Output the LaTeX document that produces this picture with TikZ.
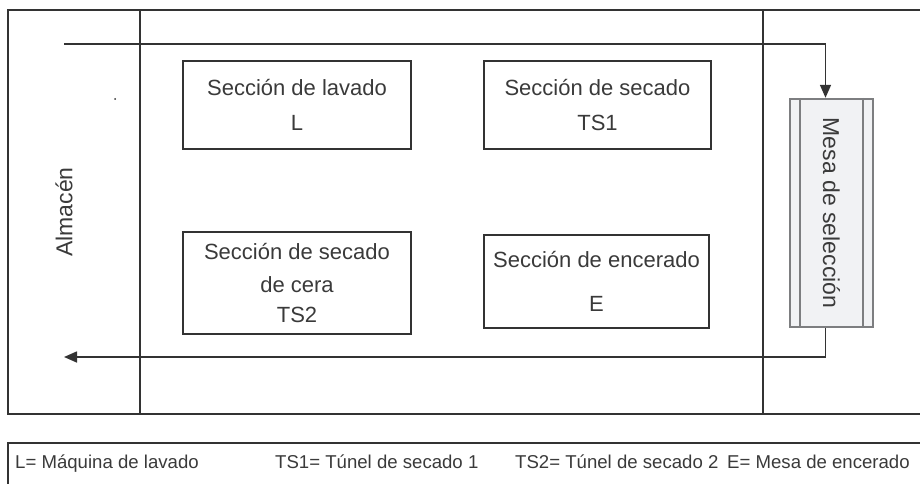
\documentclass[tikz,border=0pt]{standalone}
\usepackage{fontspec}
\setmainfont{Liberation Sans}
\usetikzlibrary{arrows.meta}
\definecolor{linegray}{HTML}{333333}
\definecolor{txtgray}{HTML}{3A3A3A}
\definecolor{mesagray}{HTML}{7D7E80}
\definecolor{mesafill}{HTML}{F1F2F4}
\tikzset{
  marco/.style={linegray, line width=1.6pt},
  seccion/.style={draw=linegray, line width=1.2pt, align=center, text=txtgray,
    font=\fontsize{22}{26}\selectfont, inner sep=0pt, minimum width=228pt},
  flujo/.style={linegray, line width=1.6pt, -{Triangle[length=13pt,width=11pt]}},
  rotulo/.style={text=txtgray, font=\fontsize{23}{27}\selectfont, inner sep=0pt},
  leyenda/.style={anchor=base west, text=txtgray, font=\fontsize{18.6}{22}\selectfont, inner sep=0pt}
}
\begin{document}
\begin{tikzpicture}[x=1pt,y=-1pt]
\useasboundingbox (0,0) rectangle (920,484);
\clip (0,0) rectangle (920,484);

% planta
\draw[marco] (940,10) -- (8,10) -- (8,414) -- (940,414);
\draw[marco] (140,10) -- (140,414);
\draw[marco] (763,10) -- (763,414);
\fill[linegray] (115,99) circle (1pt);

\node[rotulo, rotate=90] (almacen) at (64,212) {Almacén};

\node[seccion, minimum height=88pt] (L) at (297,105) {Sección de lavado\\[9pt] L};
\node[seccion, minimum width=227pt, minimum height=88pt] (TS1) at (597.5,105) {Sección de secado\\[9pt] TS1};
\node[seccion, minimum height=102pt] (TS2) at (297,283) {Sección de secado\\[7pt] de cera\\[4pt] TS2};
\node[seccion, minimum width=225pt, minimum height=93pt] (E) at (596.5,281.5) {Sección de encerado\\[18pt] E};

% mesa de seleccion
\node[draw=mesagray, fill=mesafill, line width=2.4pt, minimum width=83pt, minimum height=228pt, inner sep=0pt] (mesa) at (831.5,213) {};
\draw[mesagray, line width=2.4pt] ([xshift=11pt]mesa.north west) -- ([xshift=11pt]mesa.south west);
\draw[mesagray, line width=2.4pt] ([xshift=-11pt]mesa.north east) -- ([xshift=-11pt]mesa.south east);
\node[rotulo, rotate=-90] (mesatxt) at (mesa.center) {Mesa de selección};

% flujo
\coordinate (inicio) at (64,44);
\coordinate (fin) at (64,357);
\draw[flujo] (inicio) -| ([xshift=-6pt]mesa.north);
\draw[flujo] ([xshift=-6pt]mesa.south) |- (fin);

% leyenda
\draw[marco] (940,443) -- (8,443) -- (8,500);
\node[leyenda] (leyL) at (15,468) {L= Máquina de lavado};
\node[leyenda] (leyTS1) at (275,468) {TS1= Túnel de secado 1};
\node[leyenda] (leyTS2) at (515,468) {TS2= Túnel de secado 2};
\node[leyenda] (leyE) at (727,468) {E= Mesa de encerado};
\end{tikzpicture}
\end{document}
